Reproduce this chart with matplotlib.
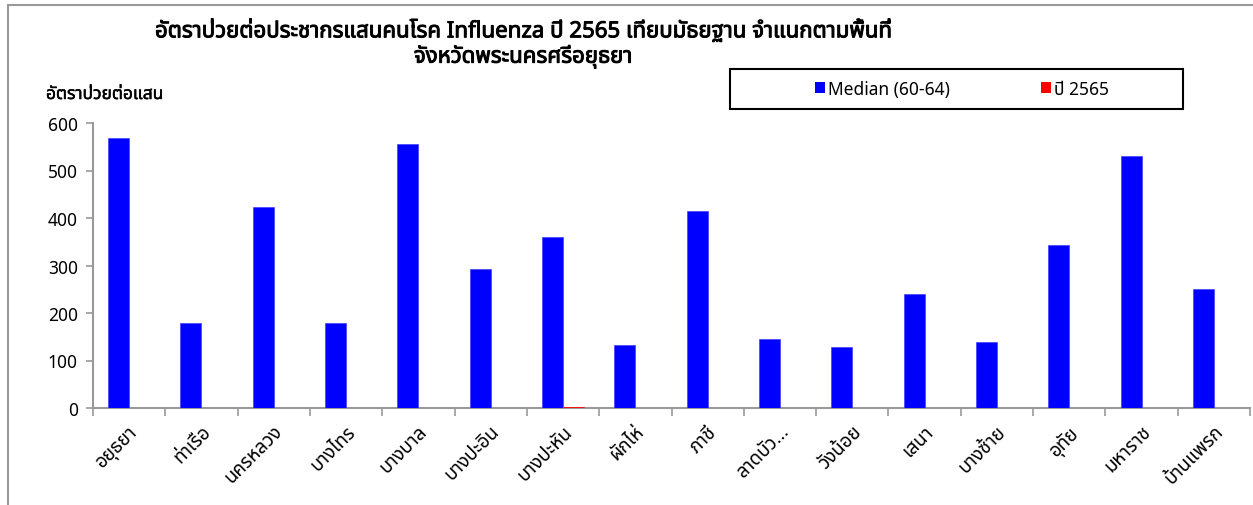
import matplotlib
matplotlib.use("Agg")
import matplotlib.pyplot as plt
import matplotlib.patheffects as pe
from matplotlib import font_manager
from matplotlib.ft2font import FT2Font
from matplotlib.patches import Rectangle, Patch
import numpy as np

# ---------------- data ----------------
districts = ["อยุธยา", "ท่าเรือ", "นครหลวง", "บางไทร", "บางบาล", "บางปะอิน",
             "บางปะหัน", "ผักไห่", "ภาชี", "ลาดบัว...", "วังน้อย", "เสนา",
             "บางซ้าย", "อุทัย", "มหาราช", "บ้านแพรก"]
median_6064 = [568, 179, 423, 179, 556, 293, 360, 133, 415, 145, 128, 240,
               139, 343, 531, 251]
year_2565 = [0, 0, 0, 0, 0, 0, 3, 0, 0, 0, 0, 0, 0, 0, 0, 0]
series_names = ["Median (60-64)", "ปี 2565"]
yticks = [0, 100, 200, 300, 400, 500, 600]
title_text = ("อัตราป่วยต่อประชากรแสนคนโรค Influenza ปี 2565 เทียบมัธยฐาน จำแนกตามพื้นที่\n"
              "จังหวัดพระนครศรีอยุธยา")
ylabel_text = "อัตราป่วยต่อแสน"

# ---------------- fonts ----------------
def find_thai_families():
    fams = []
    for f in font_manager.fontManager.ttflist:
        try:
            cmap = FT2Font(f.fname).get_charmap()
        except Exception:
            continue
        if 0x0E01 in cmap and 0x0E2D in cmap:
            if f.name not in fams:
                fams.append(f.name)
    return fams

thai = find_thai_families()
pref = ["Tahoma", "Noto Sans Thai", "Noto Sans Thai UI", "Loma", "Garuda",
        "Norasi", "TlwgTypo", "Sarabun"]
thai.sort(key=lambda n: pref.index(n) if n in pref else len(pref))
families = (thai[:1] if thai else []) + ["DejaVu Sans"]
plt.rcParams["font.family"] = families

# ---------------- figure ----------------
W, H = 1253, 506
fig = plt.figure(figsize=(W / 100, H / 100), dpi=100)
ax = fig.add_axes([93 / W, 1 - 409 / H, (1250 - 93) / W, (409 - 124) / H])

x = np.arange(len(districts))
bw = 0.29
ax.bar(x - bw / 2, median_6064, width=bw, color="#0000FF", edgecolor="#4040FF",
       linewidth=0.5, label=series_names[0], zorder=3)
ax.bar(x + bw / 2, year_2565, width=bw, color="#FF0000", edgecolor="#FF0000",
       linewidth=0.5, label=series_names[1], zorder=3)

ax.set_xlim(-0.5, len(districts) - 0.5)
ax.set_ylim(0, 600)
ax.set_yticks(yticks)
ax.set_yticklabels([str(v) for v in yticks], fontsize=12.5)

# tick marks between categories, labels at category centers
ax.set_xticks(np.arange(len(districts) + 1) - 0.5)
ax.set_xticklabels([])
ax.set_xticks(x, minor=True)
ax.set_xticklabels(districts, minor=True, rotation=45, ha="right",
                   va="top", rotation_mode="anchor", fontsize=13.5)
ax.tick_params(axis="x", which="minor", length=0, pad=10)
ax.tick_params(axis="x", which="major", length=6, color="#999999", width=1.2)
ax.tick_params(axis="y", length=5, color="#999999", width=1.2, pad=6)

for s in ["top", "right"]:
    ax.spines[s].set_visible(False)
for s in ["left", "bottom"]:
    ax.spines[s].set_color("#999999")
    ax.spines[s].set_linewidth(1.5)

# outer chart border
fig.patches.append(Rectangle((8 / W, -0.1), 1.2, 1 - 6 / H + 0.1,
                             transform=fig.transFigure, fill=False,
                             edgecolor="#999999", linewidth=1.5))

# title
fig.text(523 / W, 1 - 44 / H, title_text, ha="center", va="center",
         fontsize=16, fontweight="bold", linespacing=1.1,
         path_effects=[pe.withStroke(linewidth=0.7, foreground="black")])
# y label
fig.text(46 / W, 1 - 95 / H, ylabel_text, ha="left", va="center",
         fontsize=12.5, fontweight="bold",
         path_effects=[pe.withStroke(linewidth=0.35, foreground="black")])

# legend box
fig.patches.append(Rectangle((730 / W, 1 - 110 / H), (1183 - 730) / W, 40 / H,
                             transform=fig.transFigure, fill=False,
                             edgecolor="black", linewidth=1.5))
handles = [Patch(facecolor="#0000FF"), Patch(facecolor="#FF0000")]
fig.legend(handles, series_names, loc="center", ncol=2,
           bbox_to_anchor=(962 / W, 1 - 90 / H), frameon=False,
           fontsize=12.5, handlelength=0.6, handleheight=0.6,
           handletextpad=0.2, columnspacing=5.2)

fig.savefig("out.png", dpi=100)
